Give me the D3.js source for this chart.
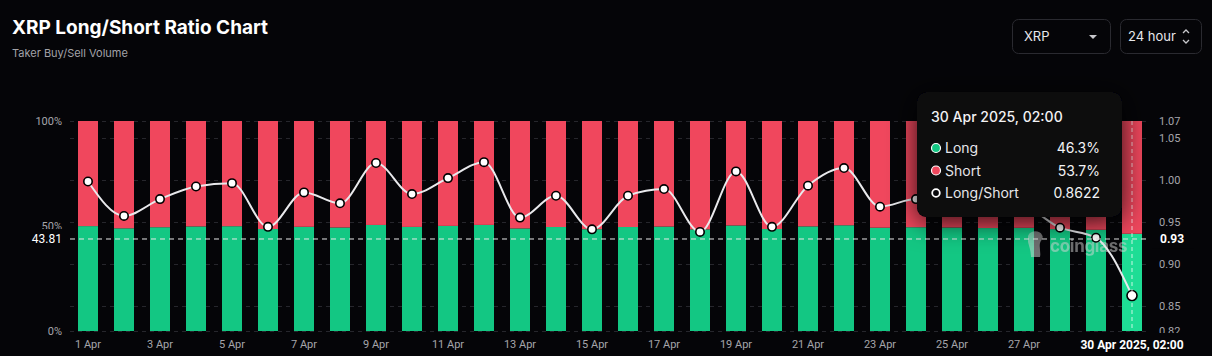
<!DOCTYPE html>
<html><head><meta charset="utf-8">
<script src="https://cdn.jsdelivr.net/npm/d3@7/dist/d3.min.js"></script>
<style>
html,body{margin:0;padding:0;background:#050508;}
svg{display:block;}
</style></head><body>
<svg id="c" width="1212" height="356"></svg>
<script>
const dates = ["1 Apr","2 Apr","3 Apr","4 Apr","5 Apr","6 Apr","7 Apr","8 Apr","9 Apr","10 Apr",
  "11 Apr","12 Apr","13 Apr","14 Apr","15 Apr","16 Apr","17 Apr","18 Apr","19 Apr","20 Apr",
  "21 Apr","22 Apr","23 Apr","24 Apr","25 Apr","26 Apr","27 Apr","28 Apr","29 Apr","30 Apr"];
const longPct = [49.95,48.90,49.42,49.80,49.90,48.56,49.62,49.29,50.50,49.57,
  50.05,50.52,48.85,49.52,48.48,49.52,49.72,48.40,50.25,48.56,
  49.82,50.35,49.19,49.42,49.29,49.03,49.14,48.53,48.21,46.30];
const shortPct = [50.05,51.10,50.58,50.20,50.10,51.44,50.38,50.71,49.50,50.43,
  49.95,49.48,51.15,50.48,51.52,50.48,50.28,51.60,49.75,51.44,
  50.18,49.65,50.81,50.58,50.71,50.97,50.86,51.47,51.79,53.70];
const ratio = [0.998,0.957,0.977,0.992,0.996,0.944,0.985,0.972,1.020,0.983,
  1.002,1.021,0.955,0.981,0.941,0.981,0.989,0.938,1.010,0.944,
  0.993,1.014,0.968,0.977,0.972,0.962,0.966,0.943,0.931,0.8622];
const xTickLabels = ["1 Apr","3 Apr","5 Apr","7 Apr","9 Apr","11 Apr","13 Apr","15 Apr","17 Apr","19 Apr","21 Apr","23 Apr","25 Apr","27 Apr"];
const leftTicks = [0,50,100];
const rightTicks = [0.82,0.85,0.90,0.95,1.00,1.05,1.07];
const crossPct = 43.81, crossRatio = 0.93;
const activeIndex = 29;
const activeLabel = "30 Apr 2025, 02:00";

const GREEN="#13c783", GREEN_HI="#1edd95", RED="#f0475d";
const BG="#050508";
const svg = d3.select("#c");
const font = "Roboto, 'Noto Sans', sans-serif";

const defs = svg.append("defs");
const f = defs.append("filter").attr("id","sh").attr("x","-50%").attr("y","-50%").attr("width","200%").attr("height","200%");
f.append("feDropShadow").attr("dx",0).attr("dy",4).attr("stdDeviation",14).attr("flood-color","#000").attr("flood-opacity",0.85);

// header
svg.append("text").attr("x",12).attr("y",34).text("XRP Long/Short Ratio Chart")
  .attr("fill","#fff").style("font","bold 19px Inter, sans-serif").style("letter-spacing","0px");
svg.append("text").attr("x",12).attr("y",57).text("Taker Buy/Sell Volume")
  .attr("fill","#a3a3a8").style("font","11px Inter, sans-serif");
// selectors
const sel = svg.append("g");
sel.append("rect").attr("x",1012.5).attr("y",19.5).attr("width",98).attr("height",34).attr("rx",6)
  .attr("fill",BG).attr("stroke","#2a2a30");
sel.append("text").attr("x",1024).attr("y",41).text("XRP").attr("fill","#e8e8ec").style("font","13px Inter, sans-serif");
sel.append("path").attr("d","M1089,35 L1097,35 L1093,39 Z").attr("fill","#c8c8cc");
sel.append("rect").attr("x",1120.5).attr("y",19.5).attr("width",81).attr("height",34).attr("rx",6)
  .attr("fill",BG).attr("stroke","#2a2a30");
sel.append("text").attr("x",1128).attr("y",41).text("24 hour").attr("fill","#e8e8ec").style("font","13px Inter, sans-serif");
sel.append("path").attr("d","M1183,33 L1186,30 L1189,33 M1183,40 L1186,43 L1189,40").attr("fill","none")
  .attr("stroke","#c8c8cc").attr("stroke-width",1.3);

// scales
const x = d3.scaleBand().domain(dates).range([70,1150]).paddingInner(16/36).paddingOuter(8/36);
const yP = d3.scaleLinear().domain([0,100]).range([331,121]);
const yR = d3.scaleLinear().domain([0.82,1.07]).range([331,121]);

// grid
svg.append("g").selectAll("line").data(rightTicks).join("line")
  .attr("x1",70).attr("x2",1150).attr("y1",d=>Math.round(yR(d))+0.5).attr("y2",d=>Math.round(yR(d))+0.5)
  .attr("stroke","#26262c").attr("stroke-dasharray","4,4");

// bars
const bars = svg.append("g");
bars.selectAll(".g").data(dates).join("rect")
  .attr("x",d=>x(d)).attr("width",x.bandwidth())
  .attr("y",(d,i)=>yP(longPct[i])).attr("height",(d,i)=>yP(0)-yP(longPct[i]))
  .attr("fill",(d,i)=>i===activeIndex?GREEN_HI:GREEN);
bars.selectAll(".r").data(dates).join("rect")
  .attr("x",d=>x(d)).attr("width",x.bandwidth())
  .attr("y",(d,i)=>yP(longPct[i]+shortPct[i])).attr("height",(d,i)=>yP(longPct[i])-yP(longPct[i]+shortPct[i]))
  .attr("fill",RED);

// watermark
const wm = svg.append("g").attr("opacity",0.5);
wm.append("path").attr("d","M1028,236 C1030,230 1040,230 1042,235 C1044,238 1041,240 1040,243 C1039,248 1041,252 1040,257 L1031,257 C1031,251 1029,246 1028,242 Z")
  .attr("fill","#d8d8d8");
wm.append("text").attr("x",1050).attr("y",252).text("coinglass")
  .attr("fill","#d8d8d8").style("font","bold 17px Inter, sans-serif").style("letter-spacing","-0.3px");

// line
const cx = (d)=>x(d)+x.bandwidth()/2;
const line = d3.line().x((d,i)=>cx(dates[i])).y(d=>yR(d)).curve(d3.curveMonotoneX);
svg.append("path").datum(ratio).attr("d",line).attr("fill","none").attr("stroke","#e9e9ec").attr("stroke-width",2);
svg.append("g").selectAll("circle").data(ratio).join("circle")
  .attr("cx",(d,i)=>cx(dates[i])).attr("cy",d=>yR(d)).attr("r",(d,i)=>i===activeIndex?5:4.2)
  .attr("fill","#fff").attr("stroke","#000").attr("stroke-width",1.6);

// crosshair
const ax = cx(dates[activeIndex]);
svg.append("line").attr("x1",70).attr("x2",1150).attr("y1",yP(crossPct)).attr("y2",yP(crossPct))
  .attr("stroke","#e8e8e8").attr("stroke-dasharray","5,4").attr("stroke-width",1);
svg.append("line").attr("x1",ax).attr("x2",ax).attr("y1",121).attr("y2",331)
  .attr("stroke","#ffffff").attr("opacity",0.75).attr("stroke-dasharray","4,3").attr("stroke-width",1);

// axes
const axisL = d3.axisLeft(yP).tickValues(leftTicks).tickFormat(d=>d+"%").tickSize(0).tickPadding(0);
const gL = svg.append("g").attr("transform","translate(62,0)").call(axisL);
const axisR = d3.axisRight(yR).tickValues(rightTicks).tickFormat(d3.format(".2f")).tickSize(0).tickPadding(0);
const gR = svg.append("g").attr("transform","translate(1159,0)").call(axisR);
const axisB = d3.axisBottom(x).tickValues(xTickLabels).tickSize(0).tickPadding(0);
const gB = svg.append("g").attr("transform","translate(0,341)").call(axisB);
[gL,gR,gB].forEach(g=>{
  g.select(".domain").remove();
  g.selectAll("text").attr("fill","#a5a5ab").style("font","11px "+font);
});
gB.selectAll("text").attr("dy","0.6em");

// crosshair labels
svg.append("rect").attr("x",14).attr("y",yP(crossPct)-10).attr("width",54).attr("height",20).attr("fill",BG);
svg.append("text").attr("x",62).attr("y",yP(crossPct)+4).attr("text-anchor","end").text(crossPct.toFixed(2))
  .attr("fill","#fff").style("font","12px "+font);
svg.append("rect").attr("x",1152).attr("y",yR(crossRatio)-10).attr("width",42).attr("height",20).attr("fill",BG);
svg.append("text").attr("x",1160).attr("y",yR(crossRatio)+4).text(crossRatio.toFixed(2))
  .attr("fill","#fff").style("font","bold 12px "+font);
svg.append("rect").attr("x",ax-52).attr("y",333).attr("width",104).attr("height",22).attr("fill",BG);
svg.append("text").attr("x",ax).attr("y",349).attr("text-anchor","middle").text(activeLabel)
  .attr("fill","#fff").style("font","bold 12px "+font);

// tooltip
const tt = svg.append("g");
tt.append("rect").attr("x",917).attr("y",92).attr("width",205).attr("height",125).attr("rx",9)
  .attr("fill","#07070a").attr("filter","url(#sh)");
tt.append("text").attr("x",931).attr("y",122).text(activeLabel).attr("fill","#f2f2f4")
  .style("font","500 14px Inter, sans-serif");
const rows = [
  {label:"Long", value:longPct[activeIndex].toFixed(1)+"%", fill:GREEN, stroke:"none"},
  {label:"Short", value:shortPct[activeIndex].toFixed(1)+"%", fill:RED, stroke:"none"},
  {label:"Long/Short", value:ratio[activeIndex].toFixed(4), fill:"none", stroke:"#fff"}
];
rows.forEach((r,i)=>{
  const yy = 148 + i*22.5;
  tt.append("circle").attr("cx",936).attr("cy",yy).attr("r",r.stroke==="none"?4.5:3.8)
    .attr("fill",r.fill==="none"?"#07070a":r.fill).attr("stroke",r.stroke==="none"?"#fff":r.stroke)
    .attr("stroke-width",r.stroke==="none"?1.2:1.8);
  tt.append("text").attr("x",945).attr("y",yy+5).text(r.label).attr("fill","#e6e6ea").style("font","14px Inter, sans-serif");
  tt.append("text").attr("x",1100).attr("y",yy+5).attr("text-anchor","end").text(r.value).attr("fill","#f2f2f4").style("font","14px Inter, sans-serif");
});
</script>
</body></html>
